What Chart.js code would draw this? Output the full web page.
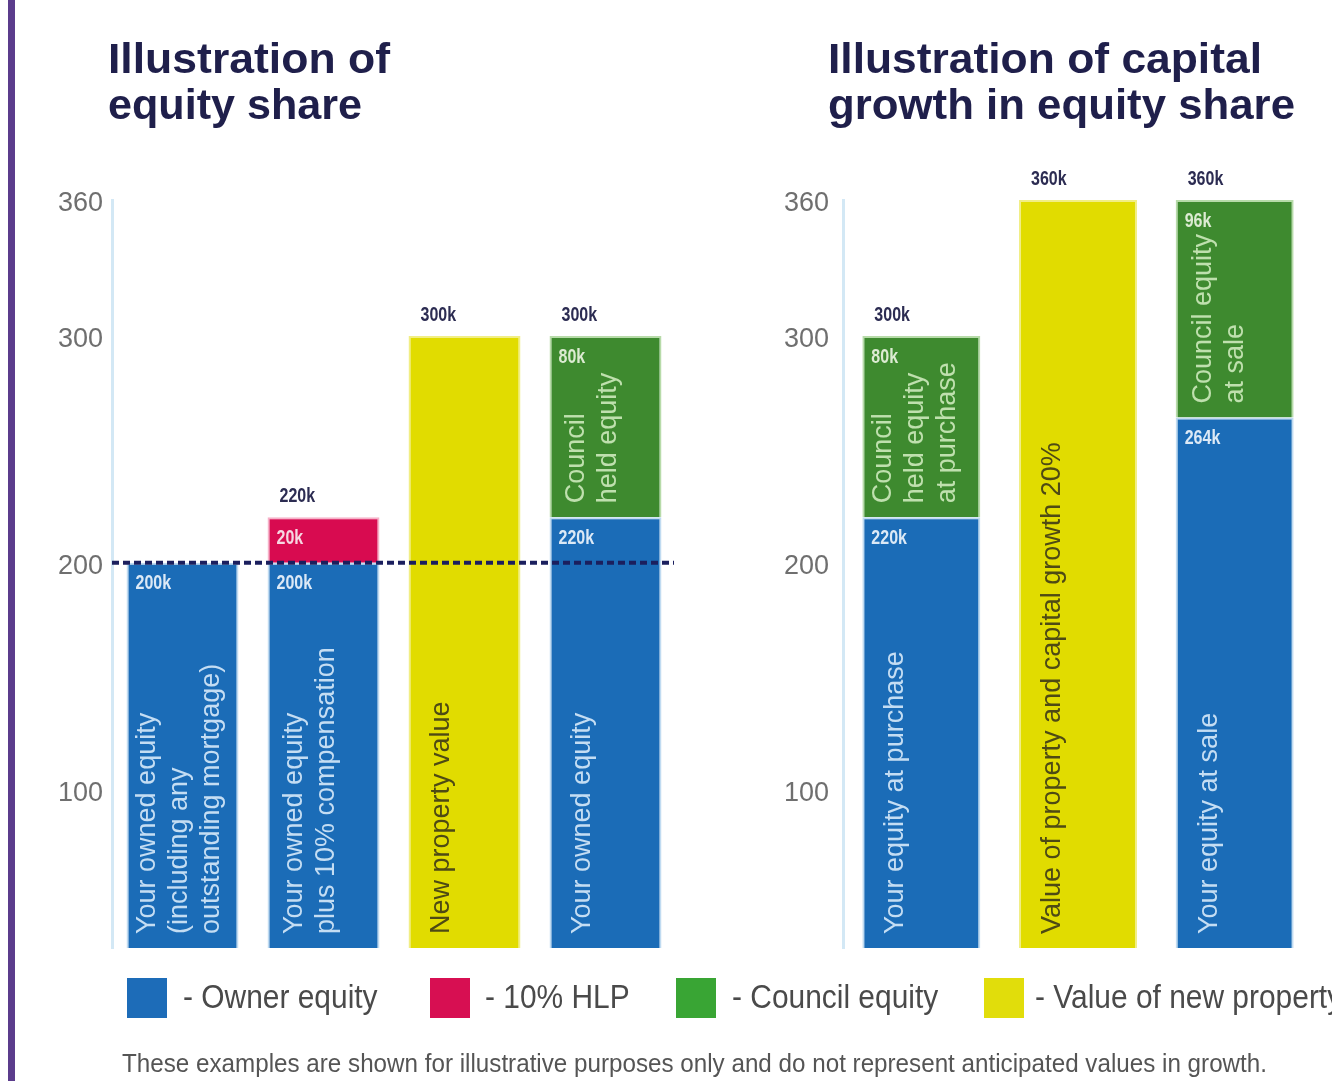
<!DOCTYPE html>
<html>
<head>
<meta charset="utf-8">
<script src="https://cdn.jsdelivr.net/npm/chart.js@4.4.1/dist/chart.umd.min.js"></script>
<style>
html,body{margin:0;padding:0;background:#fff;width:1332px;height:1081px;overflow:hidden;position:relative;font-family:"Liberation Sans",Arial,sans-serif;}
#sidebar{position:absolute;left:8px;top:0;width:7px;height:1081px;background:#5b3c8c;}
.t{position:absolute;white-space:nowrap;line-height:1;transform-origin:0 0;}
canvas{position:absolute;top:0;}
.sw{position:absolute;width:40px;height:40px;top:978px;}
</style>
</head>
<body>
<div id="sidebar"></div>
<canvas id="cL" width="700" height="1081" style="left:0"></canvas>
<canvas id="cR" width="632" height="1081" style="left:700px"></canvas>
<div id="texts"></div>
<script>
// ---------- data ----------
const leftCategories = ['Current equity', 'Equity plus HLP', 'New property', 'Equity share'];
const leftOwner      = [200, 200, null, 220];
const leftHLP        = [null, 20, null, null];
const leftCouncil    = [null, null, null, 80];
const leftProperty   = [null, null, 300, null];
const leftShowTotal  = [false, true, true, true];

const rightCategories = ['At purchase', 'Capital growth', 'At sale'];
const rightOwner      = [220, null, 264];
const rightCouncil    = [80, null, 96];
const rightProperty   = [null, 360, null];
const rightShowTotal  = [true, true, true];

const yTicks = [100, 200, 300, 360];
const thresholdValue = 200;

const leftOwnerText    = [['Your owned equity', '(including any', 'outstanding mortgage)'], ['Your owned equity', 'plus 10% compensation'], null, ['Your owned equity']];
const leftCouncilText  = [null, null, null, ['Council', 'held equity']];
const leftPropertyText = [null, null, ['New property value'], null];
const rightOwnerText    = [['Your equity at purchase'], null, ['Your equity at sale']];
const rightCouncilText  = [['Council', 'held equity', 'at purchase'], null, ['Council equity', 'at sale']];
const rightPropertyText = [null, ['Value of property and capital growth 20%'], null];

const seriesNames = ['Owner equity', '10% HLP', 'Council equity', 'Value of new property'];

// ---------- styles ----------
const C = {
  blue:   {fill:'#1b6cb7', edge:'rgba(185,215,240,0.9)', text:'#c4ddf3', label:'#dce9f6'},
  red:    {fill:'#d80b50', edge:'rgba(245,170,195,0.9)', text:'#ffffff', label:'#f6d7e1'},
  green:  {fill:'#3e8a2f', edge:'rgba(175,215,160,0.9)', text:'#bfe0ae', label:'#dcebd2'},
  yellow: {fill:'#e1dc00', edge:'rgba(240,236,120,0.9)', text:'#4e4a14', label:'#4e4a14'}
};
const legendColors = ['#1d6cb8', '#d70f52', '#39a534', '#e1dd0b'];
const FONT = '"Liberation Sans", Arial, sans-serif';

function ds(label, data, col, texts, segLabels) {
  return {
    label, data,
    backgroundColor: col.fill,
    borderColor: col.edge,
    borderWidth: {top:2, left:2, right:2, bottom:0},
    borderSkipped: false,
    innerText: texts,
    segLabels: segLabels,
    textColor: col.text,
    labelColor: col.label
  };
}

function condensed(ctx, text, x, y, sx) {
  ctx.save(); ctx.translate(x, y); ctx.scale(sx, 1); ctx.fillText(text, 0, 0); ctx.restore();
}

const annot = {
  id: 'annot',
  afterDatasetsDraw(chart, args, opts) {
    const ctx = chart.ctx, area = chart.chartArea, yS = chart.scales.y;
    ctx.save();
    // per-segment texts
    chart.data.datasets.forEach((d, di) => {
      const meta = chart.getDatasetMeta(di);
      meta.data.forEach((el, j) => {
        const v = d.data[j];
        if (v == null) return;
        const left = el.x - el.width / 2;
        const bottom = Math.min(el.base, area.bottom);
        if (d.segLabels) {
          ctx.font = 'bold 20px ' + FONT;
          ctx.fillStyle = d.labelColor;
          ctx.textAlign = 'left'; ctx.textBaseline = 'middle';
          condensed(ctx, v + 'k', left + 9, el.y + 21, 0.8);
        }
        const lines = d.innerText && d.innerText[j];
        if (lines) {
          const n = lines.length;
          const off = Math.max(6, 20 - (n - 1) * 6);
          ctx.font = '27px ' + FONT;
          ctx.fillStyle = d.textColor;
          ctx.textAlign = 'left'; ctx.textBaseline = 'top';
          lines.forEach((ln, k) => {
            ctx.save();
            ctx.translate(left + off + k * 32, bottom - 14);
            ctx.rotate(-Math.PI / 2);
            ctx.fillText(ln, 0, 0);
            ctx.restore();
          });
        }
      });
    });
    // totals above bars
    const n = chart.data.labels.length;
    for (let j = 0; j < n; j++) {
      if (!opts.showTotal[j]) continue;
      let sum = 0, top = Infinity, left = 0;
      chart.data.datasets.forEach((d, di) => {
        const v = d.data[j];
        if (v == null) return;
        sum += v;
        const el = chart.getDatasetMeta(di).data[j];
        if (el.y < top) { top = el.y; left = el.x - el.width / 2; }
      });
      ctx.font = 'bold 20px ' + FONT;
      ctx.fillStyle = '#2c2c52';
      ctx.textAlign = 'left'; ctx.textBaseline = 'middle';
      condensed(ctx, sum + 'k', left + 12, top - 21, 0.8);
    }
    // threshold dashed line
    if (opts.threshold != null) {
      const y = yS.getPixelForValue(opts.threshold);
      ctx.strokeStyle = '#1b1f5e';
      ctx.lineWidth = 4;
      ctx.setLineDash([7, 4]);
      ctx.beginPath(); ctx.moveTo(area.left, y); ctx.lineTo(area.right - 2, y); ctx.stroke();
    }
    ctx.restore();
  }
};

function makeChart(id, labels, datasets, o) {
  return new Chart(document.getElementById(id), {
    type: 'bar',
    data: {labels, datasets},
    plugins: [annot],
    options: {
      responsive: false,
      animation: false,
      events: [],
      layout: {padding: {left: 0, right: o.padRight, top: 200, bottom: 133}},
      datasets: {bar: {barPercentage: o.barPct, categoryPercentage: 1}},
      plugins: {
        legend: {display: false}, tooltip: {enabled: false}, title: {display: false},
        annot: {showTotal: o.showTotal, threshold: o.threshold}
      },
      scales: {
        x: {display: false, stacked: true},
        y: {
          stacked: true, min: 30, max: 360,
          grid: {display: false, drawTicks: false},
          border: {display: true, color: '#d3e8f5', width: 3},
          afterBuildTicks: s => { s.ticks = yTicks.map(v => ({value: v})); },
          afterFit: s => { s.width = o.axisWidth; },
          ticks: {padding: o.tickPad, labelOffset: 4, color: '#6f6f6f', font: {family: FONT, size: 27}}
        }
      }
    }
  });
}

makeChart('cL', leftCategories, [
  ds(seriesNames[0], leftOwner, C.blue, leftOwnerText, true),
  ds(seriesNames[1], leftHLP, C.red, null, true),
  ds(seriesNames[2], leftCouncil, C.green, leftCouncilText, true),
  ds(seriesNames[3], leftProperty, C.yellow, leftPropertyText, false)
], {padRight: 24, barPct: 0.794, axisWidth: 112, tickPad: 9, showTotal: leftShowTotal, threshold: thresholdValue});

makeChart('cR', rightCategories, [
  ds(seriesNames[0], rightOwner, C.blue, rightOwnerText, true),
  ds(seriesNames[2], rightCouncil, C.green, rightCouncilText, true),
  ds(seriesNames[3], rightProperty, C.yellow, rightPropertyText, false)
], {padRight: 19, barPct: 0.753, axisWidth: 143, tickPad: 14, showTotal: rightShowTotal, threshold: null});

// ---------- HTML texts ----------
const host = document.getElementById('texts');
function txt(s, left, baseline, size, opts) {
  const el = document.createElement('div');
  el.className = 't';
  el.textContent = s;
  el.style.fontSize = size + 'px';
  el.style.fontWeight = opts.bold ? 'bold' : 'normal';
  el.style.color = opts.color;
  el.style.left = left + 'px';
  el.style.top = (baseline - 0.8465 * size) + 'px';
  host.appendChild(el);
  let sx = opts.scale || 1;
  if (opts.width) sx = opts.width / el.getBoundingClientRect().width;
  el.style.transform = 'scaleX(' + sx + ')';
  return el;
}
const navy = '#1f1f4b';
txt('Illustration of', 108, 73, 43, {bold: true, color: navy, width: 282});
txt('equity share', 108, 119, 43, {bold: true, color: navy, width: 254});
txt('Illustration of capital', 828, 73, 43, {bold: true, color: navy, width: 434});
txt('growth in equity share', 828, 119, 43, {bold: true, color: navy, width: 467});

const legendPos = [[127, 183], [430, 485], [676, 732], [984, 1035]];
seriesNames.forEach((nm, i) => {
  const sw = document.createElement('div');
  sw.className = 'sw';
  sw.style.left = legendPos[i][0] + 'px';
  sw.style.background = legendColors[i];
  host.appendChild(sw);
  txt('- ' + nm, legendPos[i][1], 1008, 34, {color: '#4a4a4a', scale: 0.88});
});

txt('These examples are shown for illustrative purposes only and do not represent anticipated values in growth.', 122, 1072, 25, {color: '#555555', width: 1145});
</script>
</body>
</html>
